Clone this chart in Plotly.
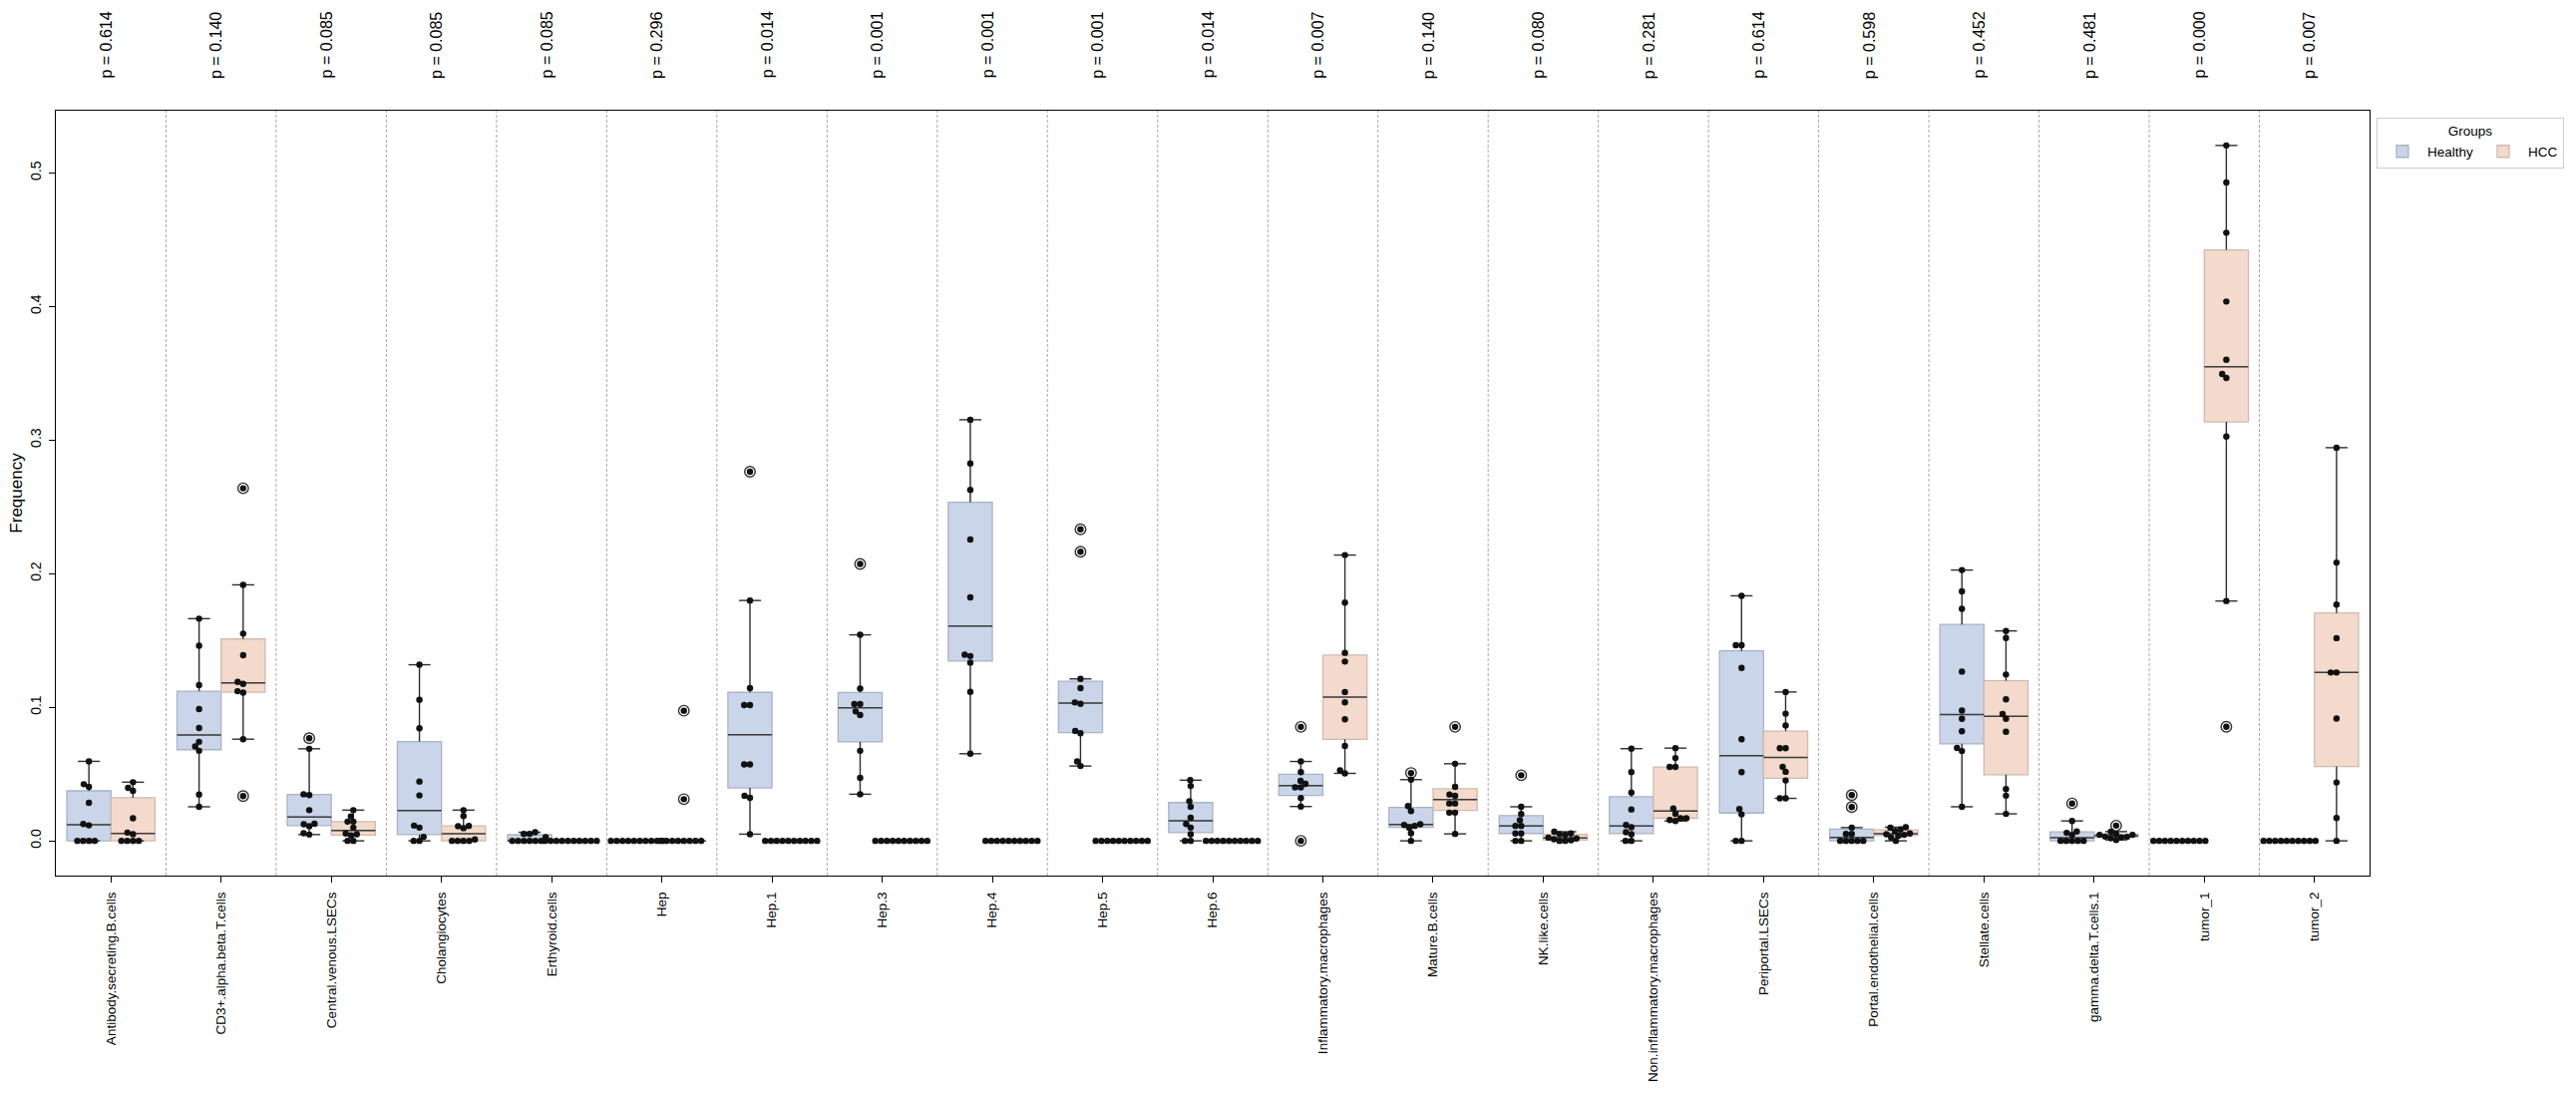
import numpy as np
import plotly.graph_objects as go

# ---------------- data ----------------
categories = ["Antibody.secreting.B.cells", "CD3+.alpha.beta.T.cells", "Central.venous.LSECs",
              "Cholangiocytes", "Erthyroid.cells", "Hep", "Hep.1", "Hep.3", "Hep.4", "Hep.5", "Hep.6",
              "Inflammatory.macrophages", "Mature.B.cells", "NK.like.cells",
              "Non.inflammatory.macrophages", "Periportal.LSECs", "Portal.endothelial.cells",
              "Stellate.cells", "gamma.delta.T.cells.1", "tumor_1", "tumor_2"]

p_values = ["0.614", "0.140", "0.085", "0.085", "0.085", "0.296", "0.014", "0.001", "0.001", "0.001",
            "0.014", "0.007", "0.140", "0.080", "0.281", "0.614", "0.598", "0.452", "0.481", "0.000",
            "0.007"]

groups = ["Healthy", "HCC"]

healthy_values = [
    [0.0595, 0.0424, 0.0404, 0.0285, 0.0126, 0.0116, 0, 0, 0, 0],
    [0.1663, 0.146, 0.1165, 0.0986, 0.0845, 0.0741, 0.0706, 0.0674, 0.0347, 0.0255],
    [0.0768, 0.0689, 0.0349, 0.0342, 0.023, 0.0128, 0.0124, 0.011, 0.0057, 0.0047],
    [0.1318, 0.1056, 0.0843, 0.0444, 0.034, 0.0114, 0.0099, 0.003, 0, 0],
    [0.0064, 0.0052, 0.0052, 0.0027, 0, 0, 0, 0, 0, 0],
    [0, 0, 0, 0, 0, 0, 0, 0, 0, 0],
    [0.2763, 0.1799, 0.1143, 0.1016, 0.1016, 0.0572, 0.0572, 0.0337, 0.0322, 0.005],
    [0.2072, 0.1542, 0.114, 0.1024, 0.1024, 0.0969, 0.0942, 0.0674, 0.0471, 0.0349],
    [0.3152, 0.2825, 0.2627, 0.2255, 0.1822, 0.1393, 0.1383, 0.1333, 0.1115, 0.0652],
    [0.2332, 0.2164, 0.1212, 0.1143, 0.1036, 0.1026, 0.0823, 0.0805, 0.0595, 0.056],
    [0.0454, 0.0411, 0.0297, 0.0255, 0.0173, 0.0126, 0.0099, 0.005, 0, 0],
    [0.0853, 0.0594, 0.0514, 0.0449, 0.0426, 0.04, 0.04, 0.032, 0.0257, 0],
    [0.0508, 0.0458, 0.026, 0.0223, 0.0124, 0.0119, 0.0112, 0.0098, 0.0057, 0],
    [0.0491, 0.0255, 0.0201, 0.0154, 0.0112, 0.0112, 0.0055, 0.0055, 0, 0],
    [0.069, 0.0515, 0.0362, 0.0235, 0.0119, 0.0102, 0.0065, 0.005, 0, 0],
    [0.1834, 0.1464, 0.1464, 0.1294, 0.0761, 0.0514, 0.0238, 0.0198, 0, 0],
    [0.0342, 0.0253, 0.0099, 0.0052, 0.0052, 0, 0, 0, 0, 0],
    [0.2027, 0.1867, 0.1737, 0.1267, 0.0975, 0.0914, 0.082, 0.0695, 0.0672, 0.0255],
    [0.028, 0.0149, 0.007, 0.006, 0.0045, 0, 0, 0, 0, 0],
    [0, 0, 0, 0, 0, 0, 0, 0, 0, 0],
    [0, 0, 0, 0, 0, 0, 0, 0, 0, 0],
]

hcc_values = [
    [0.0439, 0.0397, 0.0374, 0.0169, 0.0062, 0.005, 0, 0, 0, 0],
    [0.2639, 0.1916, 0.1551, 0.139, 0.119, 0.1175, 0.112, 0.111, 0.0761, 0.0335],
    [0.023, 0.0183, 0.0144, 0.0144, 0.0099, 0.0055, 0.005, 0.004, 0, 0],
    [0.023, 0.0186, 0.0112, 0.011, 0.0095, 0.001, 0, 0, 0, 0],
    [0, 0, 0, 0, 0, 0, 0, 0, 0, 0],
    [0.0974, 0.0312, 0, 0, 0, 0, 0, 0, 0, 0],
    [0, 0, 0, 0, 0, 0, 0, 0, 0, 0],
    [0, 0, 0, 0, 0, 0, 0, 0, 0, 0],
    [0, 0, 0, 0, 0, 0, 0, 0, 0, 0],
    [0, 0, 0, 0, 0, 0, 0, 0, 0, 0],
    [0, 0, 0, 0, 0, 0, 0, 0, 0, 0],
    [0.2139, 0.1783, 0.1407, 0.1342, 0.1114, 0.1037, 0.091, 0.071, 0.0528, 0.0505],
    [0.0853, 0.0577, 0.0404, 0.0347, 0.0337, 0.028, 0.028, 0.0211, 0.0211, 0.0052],
    [0.0068, 0.0055, 0.005, 0.0045, 0.0024, 0.0018, 0.0012, 0.0005, 0, 0],
    [0.0694, 0.062, 0.0553, 0.0553, 0.0243, 0.0203, 0.0169, 0.0169, 0.0156, 0.0149],
    [0.1114, 0.0952, 0.0864, 0.0693, 0.0693, 0.0554, 0.0517, 0.0452, 0.0318, 0.0318],
    [0.0102, 0.0098, 0.0085, 0.0072, 0.0055, 0.005, 0.0045, 0.0038, 0.0025, 0],
    [0.1571, 0.1518, 0.1245, 0.1059, 0.0949, 0.0914, 0.0816, 0.0388, 0.0338, 0.0202],
    [0.0114, 0.0069, 0.0052, 0.0045, 0.0045, 0.0032, 0.003, 0.0025, 0.002, 0.0007],
    [0.5205, 0.4928, 0.4552, 0.4037, 0.3601, 0.3495, 0.3465, 0.3026, 0.1795, 0.0854],
    [0.2943, 0.2083, 0.1768, 0.1517, 0.126, 0.126, 0.0915, 0.0437, 0.0171, 0],
]

# ---------------- style ----------------
W, H = 2583, 1097
ML, MR, MT, MB = 56, 202, 111, 216
FONT = "Liberation Sans, Arial, sans-serif"
fills = {"Healthy": "#cad5e9", "HCC": "#f3dacc"}
edges = {"Healthy": "#a9b3c5", "HCC": "#cfbbaf"}
DARK = "#2e2e2e"
BOX_W = 0.4
CAP_HALF = 0.1
DOT_D = 5.8

all_vals = np.concatenate([np.ravel(healthy_values), np.ravel(hcc_values)])
ymin, ymax = float(all_vals.min()), float(all_vals.max())
pad = 0.05 * (ymax - ymin)
yrange = [ymin - pad, ymax + pad]
n = len(categories)
px_x = (W - ML - MR) / n
px_y = (H - MT - MB) / (yrange[1] - yrange[0])


def box_stats(v):
    v = np.asarray(v, float)
    q1, med, q3 = np.percentile(v, [25, 50, 75])
    iqr = q3 - q1
    lo_lim, hi_lim = q1 - 1.5 * iqr, q3 + 1.5 * iqr
    inside = v[(v >= lo_lim) & (v <= hi_lim)]
    lf, uf = inside.min(), inside.max()
    fl = v[(v < lo_lim) | (v > hi_lim)]
    return q1, med, q3, lf, uf, fl


def swarm(v):
    v = np.asarray(v, float)
    order = np.argsort(v, kind="stable")
    placed = []
    offs = np.zeros(len(v))
    for i in order:
        y = v[i] * px_y
        nb = [(px, py) for px, py in placed if abs(py - y) < DOT_D]
        cands = [0.0]
        for px, py in nb:
            dx = np.sqrt(max(DOT_D ** 2 - (py - y) ** 2, 0))
            cands += [px + dx, px - dx]
        cands.sort(key=lambda c: (round(abs(c), 6), c))
        chosen = cands[-1]
        for c in cands:
            if all((c - px) ** 2 + (y - py) ** 2 >= DOT_D ** 2 - 1e-6 for px, py in nb):
                chosen = c
                break
        placed.append((chosen, y))
        offs[i] = chosen / px_x
    return offs


fig = go.Figure()

group_data = {"Healthy": healthy_values, "HCC": hcc_values}
shift = {"Healthy": -0.2, "HCC": 0.2}

dots_x, dots_y = [], []
fl_x, fl_y = [], []
for g in groups:
    vals = group_data[g]
    pos, Q1, MED, Q3 = [], [], [], []
    wx, wy, mx, my = [], [], [], []
    for i, v in enumerate(vals):
        p = i + shift[g]
        q1, med, q3, lf, uf, fl = box_stats(v)
        pos.append(p); Q1.append(q1); MED.append(med); Q3.append(q3)
        # whiskers + caps
        wx += [p, p, None, p - CAP_HALF, p + CAP_HALF, None,
               p, p, None, p - CAP_HALF, p + CAP_HALF, None]
        wy += [q3, uf, None, uf, uf, None, q1, lf, None, lf, lf, None]
        mx += [p - BOX_W / 2, p + BOX_W / 2, None]
        my += [med, med, None]
        for f in fl:
            fl_x.append(p); fl_y.append(f)
        offs = swarm(v)
        dots_x += list(p + offs)
        dots_y += list(v)
    fig.add_trace(go.Scatter(x=wx, y=wy, mode="lines", line=dict(color=DARK, width=1.4),
                             showlegend=False, hoverinfo="skip"))
    fig.add_trace(go.Box(name=g, x=pos, q1=Q1, median=MED, q3=Q3, lowerfence=Q1, upperfence=Q3,
                         width=BOX_W, whiskerwidth=0, fillcolor=fills[g],
                         line=dict(color=edges[g], width=1.3), boxpoints=False, showlegend=True))
    fig.add_trace(go.Scatter(x=mx, y=my, mode="lines", line=dict(color="#3c3c3c", width=1.5),
                             showlegend=False, hoverinfo="skip"))

fig.add_trace(go.Scatter(x=fl_x, y=fl_y, mode="markers",
                         marker=dict(symbol="circle-open", size=10.5, color="#333333",
                                     line=dict(width=1.4, color="#333333")),
                         showlegend=False, hoverinfo="skip"))
fig.add_trace(go.Scatter(x=dots_x, y=dots_y, mode="markers",
                         marker=dict(size=6.4, color="#111111", line=dict(width=0)),
                         showlegend=False, hoverinfo="skip"))

# dashed separators between categories
for k in range(n - 1):
    fig.add_shape(type="line", xref="x", yref="paper", x0=k + 0.5, x1=k + 0.5, y0=0, y1=1,
                  line=dict(color="#a8a8a8", width=1, dash="3px,2px"), layer="below")

# p-values
for i, pv in enumerate(p_values):
    fig.add_annotation(x=i, xref="x", y=1.0857, yref="paper", text=f"p = {pv}", textangle=-90,
                       showarrow=False, xanchor="center", yanchor="middle", xshift=-5,
                       font=dict(size=16, color="black", family=FONT))

fig.update_layout(
    width=W, height=H,
    margin=dict(l=ML, r=MR, t=MT, b=MB, pad=0),
    plot_bgcolor="white", paper_bgcolor="white",
    font=dict(family=FONT, color="black"),
    boxmode="overlay",
    legend=dict(title=dict(text="Groups", side="top center", font=dict(size=13.5)),
                orientation="h", x=1.003, y=0.991, xanchor="left", yanchor="top",
                bordercolor="#cccccc", borderwidth=1, font=dict(size=13.5), bgcolor="white",
                itemwidth=40),
    xaxis=dict(range=[-0.5, n - 0.5], tickmode="array", tickvals=list(range(n)), ticktext=categories,
               tickangle=-90, ticks="outside", ticklen=6, tickwidth=1.3, tickcolor="black",
               showline=True, linecolor="black", linewidth=1.3, mirror=True, showgrid=False,
               zeroline=False, tickfont=dict(size=13.5), ticklabelstandoff=4),
    yaxis=dict(range=yrange, tickmode="array", tickvals=[0, 0.1, 0.2, 0.3, 0.4, 0.5],
               ticktext=["0.0", "0.1", "0.2", "0.3", "0.4", "0.5"], tickangle=-90,
               ticks="outside", ticklen=6, tickwidth=1.3, tickcolor="black",
               showline=True, linecolor="black", linewidth=1.3, mirror=True, showgrid=False,
               zeroline=False, tickfont=dict(size=14), ticklabelstandoff=2,
               title=dict(text="Frequency", font=dict(size=17), standoff=1)),
)

fig.write_html("out.html")
